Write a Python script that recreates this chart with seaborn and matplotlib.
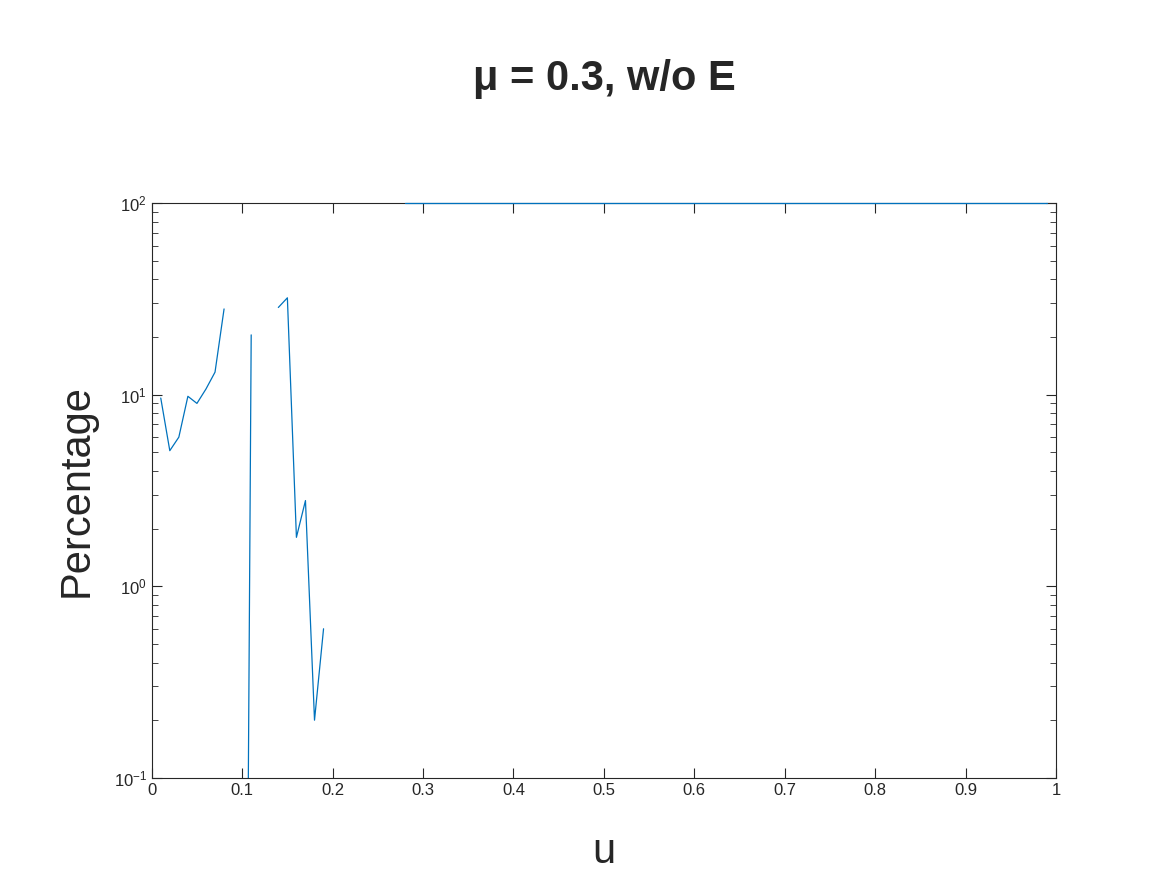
import numpy as np
import pandas as pd
import matplotlib
matplotlib.use("Agg")
import matplotlib.pyplot as plt
import seaborn as sns

sns.set_style("white")
plt.rcParams['font.family'] = ['Liberation Sans', 'DejaVu Sans']

u = np.round(np.arange(1, 100) / 100, 2)
early = [9.6, 5.1, 6.0, 9.8, 9.0, 10.7, 13.1, 28.0, np.nan, 1e-6,
         20.5, np.nan, np.nan, 28.5, 32.0, 1.8, 2.8, 0.2, 0.6]
late_gap = [np.nan] * 8           # u = 0.20 .. 0.27
plateau = [100.0] * 72            # u = 0.28 .. 0.99
percentage = early + late_gap + plateau

df = pd.DataFrame({"u": u, "Percentage": percentage})

fig = plt.figure(figsize=(11.67, 8.75), dpi=100)
ax = fig.add_axes([0.130, 0.111, 0.775, 0.657])
ax.set_yscale("log")
ax.set_xlim(0, 1)
ax.set_ylim(0.1, 100)
# matplotlib line keeps NaN gaps; lower segment clipped, plateau drawn on top edge
ax.plot(df["u"][:19], df["Percentage"][:19], color="#0072BD", lw=0.9)
ax.plot(df["u"][19:], df["Percentage"][19:], color="#0072BD", lw=0.9, clip_on=False, zorder=5)
ax.set_xticks(np.round(np.arange(0, 1.01, 0.1), 1))
ax.set_xticklabels(["0", "0.1", "0.2", "0.3", "0.4", "0.5", "0.6", "0.7", "0.8", "0.9", "1"])
ax.tick_params(which="both", direction="in", top=True, right=True, left=True, bottom=True,
               labelsize=12, colors="#262626")
ax.tick_params(which="major", length=7)
ax.tick_params(which="minor", length=4)
for s in ax.spines.values():
    s.set_color("#262626")
    s.set_linewidth(0.8)
ax.set_xlabel("u", fontsize=30, color="#262626", labelpad=25)
ax.set_ylabel("Percentage", fontsize=30, color="#262626", labelpad=12)
fig.text(0.518, 0.91, "μ = 0.3, w/o E", ha="center", va="center", fontsize=30, fontweight="bold")

fig.savefig("out.png", dpi=100)
